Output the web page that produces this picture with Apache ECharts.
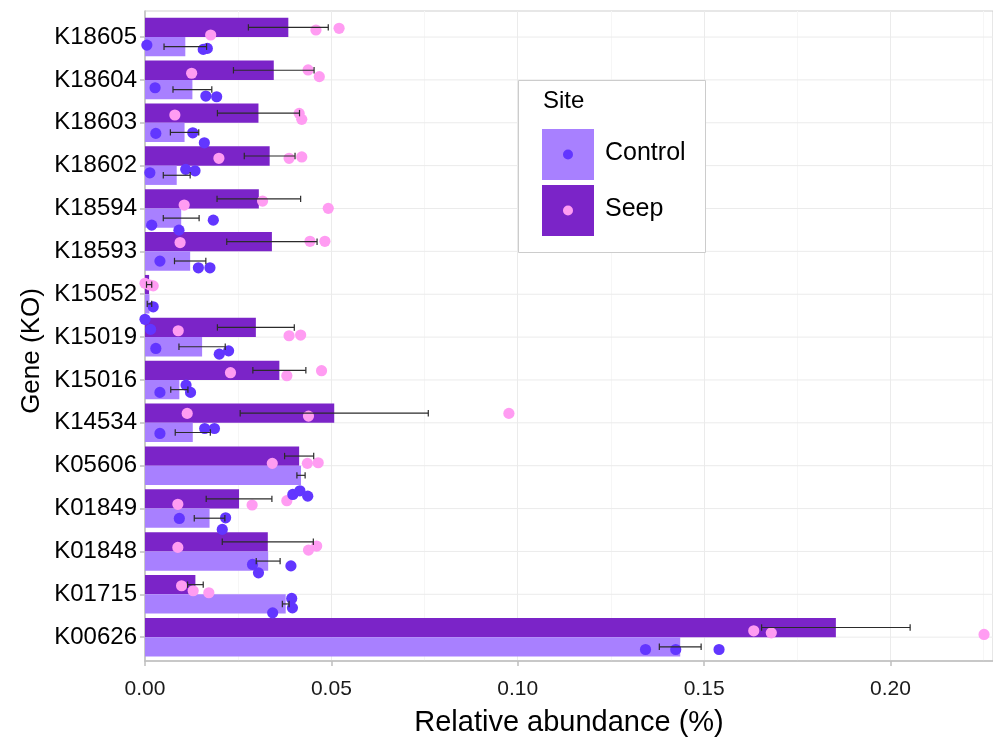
<!DOCTYPE html>
<html>
<head>
<meta charset="utf-8">
<title>Relative abundance by gene</title>
<script src="https://cdn.jsdelivr.net/npm/echarts@6/dist/echarts.min.js"></script>
<style>
  html, body { margin: 0; padding: 0; background: #ffffff; }
  #chart { width: 993px; height: 742px; }
</style>
</head>
<body>
<div id="chart"></div>
<script>
// Genes (KEGG orthologs), listed top to bottom
const categories = ['K18605', 'K18604', 'K18603', 'K18602', 'K18594', 'K18593', 'K15052',
  'K15019', 'K15016', 'K14534', 'K05606', 'K01849', 'K01848', 'K01715', 'K00626'];

// Mean relative abundance (%) and standard error per site
const seepMean = [0.0384, 0.0345, 0.0304, 0.0334, 0.0305, 0.0340, 0.0011, 0.0297, 0.0360, 0.0507, 0.0413, 0.0252, 0.0329, 0.0135, 0.1851];
const seepErr = [0.0107, 0.0108, 0.0110, 0.0068, 0.0112, 0.0121, 0.0007, 0.0103, 0.0071, 0.0252, 0.0039, 0.0088, 0.0122, 0.0021, 0.0199];
const controlMean = [0.0108, 0.0127, 0.0106, 0.0085, 0.0097, 0.0121, 0.0012, 0.0153, 0.0092, 0.0128, 0.0418, 0.0173, 0.0330, 0.0377, 0.1434];
const controlErr = [0.0057, 0.0052, 0.0038, 0.0036, 0.0048, 0.0042, 0.0006, 0.0062, 0.0023, 0.0047, 0.0011, 0.0041, 0.0032, 0.0009, 0.0056];

// Replicate samples (three per gene and site)
const seepReplicates = [
  [0.0176, 0.0458, 0.0520], [0.0125, 0.0437, 0.0467], [0.0080, 0.0413, 0.0420],
  [0.0198, 0.0386, 0.0420], [0.0105, 0.0315, 0.0491], [0.0094, 0.0442, 0.0482],
  [0.0000, 0.0013, 0.0022], [0.0089, 0.0386, 0.0417], [0.0229, 0.0380, 0.0473],
  [0.0113, 0.0438, 0.0975], [0.0341, 0.0435, 0.0464], [0.0088, 0.0287, 0.0380],
  [0.0088, 0.0438, 0.0460], [0.0098, 0.0129, 0.0171], [0.1631, 0.1678, 0.2248]
];
const controlReplicates = [
  [0.0005, 0.0156, 0.0167], [0.0027, 0.0163, 0.0192], [0.0029, 0.0128, 0.0159],
  [0.0013, 0.0109, 0.0134], [0.0018, 0.0091, 0.0183], [0.0040, 0.0143, 0.0174],
  [0.0022, 0.0000, 0.0015], [0.0029, 0.0199, 0.0224], [0.0040, 0.0110, 0.0122],
  [0.0040, 0.0160, 0.0186], [0.0396, 0.0415, 0.0436], [0.0092, 0.0216, 0.0207],
  [0.0288, 0.0304, 0.0391], [0.0393, 0.0395, 0.0342], [0.1341, 0.1422, 0.1538]
];

// Vertical jitter of each replicate point, as a fraction of the category band
const seepJitter = [
  [0.177, 0.061, 0.021], [0.070, -0.007, 0.149], [0.044, 0.005, 0.145],
  [0.054, 0.054, 0.023], [0.145, 0.051, 0.222], [0.020, -0.010, -0.010],
  [-0.030, 0.010, 0.030], [0.077, 0.194, 0.177], [0.056, 0.126, 0.009],
  [0.005, 0.068, 0.005], [0.170, 0.170, 0.156], [0.126, 0.142, 0.042],
  [0.131, 0.194, 0.100], [0.026, 0.142, 0.189], [0.077, 0.124, 0.161]
];
const controlJitter = [
  [-0.037, 0.063, 0.040], [-0.042, 0.152, 0.168], [0.023, 0.009, 0.243],
  [-0.058, -0.138, -0.105], [0.163, 0.280, 0.047], [0.002, 0.159, 0.159],
  [0.068, 0.360, 0.595], [0.040, 0.173, 0.096], [0.065, -0.105, 0.065],
  [0.023, -0.093, -0.093], [0.446, 0.360, 0.485], [0.005, -0.009, 0.261],
  [0.079, 0.275, 0.112], [-0.128, 0.091, 0.208], [0.063, 0.063, 0.063]
];

const X_MAX = 0.2272;
const X_STEP = 0.05;

const COLORS = {
  seepBar: '#7B24C8',
  controlBar: '#A880FF',
  seepPoint: '#FF9CF2',
  controlPoint: '#6236FF',
  errorBar: '#2B2B2B',
  grid: '#EBEBEB',
  gridMinor: '#F6F6F6',
  frame: '#CFCFCF'
};
const FONT = "'Liberation Sans', Arial, Helvetica, sans-serif";

// Half the dodge width: each bar takes 0.45 of the band, bars centred at +/-0.225
const DODGE = 0.225;

// Flatten replicate points into [value, categoryIndex, jitter, side]
function pointRows(reps, jit, side) {
  const rows = [];
  reps.forEach((vals, i) => vals.forEach((v, k) => rows.push([v, i, jit[i][k], side])));
  return rows;
}
const seepPointRows = pointRows(seepReplicates, seepJitter, -1);
const controlPointRows = pointRows(controlReplicates, controlJitter, 1);

const errorRows = categories.map((c, i) => [seepMean[i], i, seepErr[i], -1])
  .concat(categories.map((c, i) => [controlMean[i], i, controlErr[i], 1]));

function renderPoint(color) {
  return function (params, api) {
    const idx = api.value(1);
    const c = api.coord([api.value(0), idx]);
    const band = api.size([0, 1])[1];
    const y = c[1] + (api.value(3) * DODGE + api.value(2)) * band;
    return {
      type: 'circle',
      shape: { cx: c[0], cy: y, r: 5.6 },
      style: { fill: color }
    };
  };
}

function renderError(params, api) {
  const mean = api.value(0);
  const idx = api.value(1);
  const err = api.value(2);
  const band = api.size([0, 1])[1];
  const y = api.coord([mean, idx])[1] + api.value(3) * DODGE * band;
  const x1 = api.coord([mean - err, idx])[0];
  const x2 = api.coord([mean + err, idx])[0];
  const cap = 3.2;
  const style = { stroke: COLORS.errorBar, lineWidth: 1.2 };
  return {
    type: 'group',
    children: [
      { type: 'line', shape: { x1: x1, y1: y, x2: x2, y2: y }, style: style },
      { type: 'line', shape: { x1: x1, y1: y - cap, x2: x1, y2: y + cap }, style: style },
      { type: 'line', shape: { x1: x2, y1: y - cap, x2: x2, y2: y + cap }, style: style }
    ]
  };
}

function renderRowLine(params, api) {
  const y = api.coord([0, api.value(1)])[1];
  const cs = params.coordSys;
  return {
    type: 'line',
    shape: { x1: cs.x, y1: y, x2: cs.x + cs.width, y2: y },
    style: { stroke: COLORS.grid, lineWidth: 1 }
  };
}

const chart = echarts.init(document.getElementById('chart'), null, { renderer: 'canvas' });

// Legend drawn as a keyed box: filled swatch with the point colour inside
const legendX = 518, legendY = 80;
const legendGraphic = [
  { type: 'rect', left: legendX, top: legendY, shape: { width: 187, height: 172 },
    style: { fill: '#ffffff', stroke: '#CCCCCC', lineWidth: 1 }, z: 10 },
  { type: 'text', left: legendX + 25, top: legendY + 9,
    style: { text: 'Site', fontSize: 24, fontFamily: FONT, fill: '#000000' }, z: 11 },
  { type: 'rect', left: legendX + 24, top: legendY + 49, shape: { width: 52, height: 51 },
    style: { fill: COLORS.controlBar }, z: 11 },
  { type: 'circle', left: legendX + 45, top: legendY + 69.5, shape: { r: 5 },
    style: { fill: COLORS.controlPoint }, z: 12 },
  { type: 'rect', left: legendX + 24, top: legendY + 105, shape: { width: 52, height: 51 },
    style: { fill: COLORS.seepBar }, z: 11 },
  { type: 'circle', left: legendX + 45, top: legendY + 125.5, shape: { r: 5 },
    style: { fill: COLORS.seepPoint }, z: 12 },
  { type: 'text', left: legendX + 87, top: legendY + 61,
    style: { text: 'Control', fontSize: 25, fontFamily: FONT, fill: '#000000' }, z: 11 },
  { type: 'text', left: legendX + 87, top: legendY + 117,
    style: { text: 'Seep', fontSize: 25, fontFamily: FONT, fill: '#000000' }, z: 11 }
];

chart.setOption({
  backgroundColor: '#ffffff',
  animation: false,
  textStyle: { fontFamily: FONT },
  grid: [
    // band layout for the bars, points and error bars
    { left: 145, right: 0, top: 15.6, bottom: 83.4 },
    // panel frame carrying the axes and grid lines
    { left: 145, right: -1, top: 11, bottom: 79, show: true, borderColor: COLORS.frame, borderWidth: 1, backgroundColor: 'transparent' }
  ],
  xAxis: [
    { gridIndex: 0, type: 'value', min: 0, max: X_MAX, show: false },
    {
      gridIndex: 1, type: 'value', min: 0, max: X_MAX + 0.0003, interval: X_STEP,
      axisLine: { show: true, lineStyle: { color: '#BFBFBF', width: 1.5 } },
      axisTick: { show: true, length: 5, lineStyle: { color: '#BFBFBF', width: 1.5 } },
      axisLabel: {
        fontSize: 21, color: '#1A1A1A', margin: 18, showMaxLabel: false,
        formatter: function (v) {
          const k = v / X_STEP;
          return Math.abs(k - Math.round(k)) < 1e-6 ? v.toFixed(2) : '';
        }
      },
      splitLine: { show: true, lineStyle: { color: COLORS.grid, width: 1 } },
      minorTick: { show: false, splitNumber: 2 },
      minorSplitLine: { show: true, lineStyle: { color: COLORS.gridMinor, width: 1 } },
      name: 'Relative abundance (%)', nameLocation: 'middle', nameGap: 47,
      nameTextStyle: { fontSize: 29, color: '#000000', fontFamily: FONT }
    }
  ],
  yAxis: [
    {
      gridIndex: 0, type: 'category', inverse: true, data: categories,
      axisLine: { show: false },
      axisTick: { show: true, alignWithLabel: true, length: 5, lineStyle: { color: '#BFBFBF', width: 1.5 } },
      axisLabel: { fontSize: 24, color: '#000000', margin: 8, fontFamily: FONT },
      splitLine: { show: false }
    },
    {
      gridIndex: 1, type: 'value', min: 0, max: 1,
      axisLine: { show: true, lineStyle: { color: '#BFBFBF', width: 1.5 } },
      axisTick: { show: false }, axisLabel: { show: false }, splitLine: { show: false },
      name: 'Gene (KO)', nameLocation: 'middle', nameGap: 100,
      nameTextStyle: { fontSize: 26, color: '#000000', fontFamily: FONT, padding: [0, 30, 0, 0] }
    }
  ],
  series: [
    {
      name: 'Row lines', type: 'custom', xAxisIndex: 0, yAxisIndex: 0, silent: true, z: 1,
      data: categories.map((c, i) => [0, i]),
      renderItem: renderRowLine
    },
    {
      name: 'Seep', type: 'bar', xAxisIndex: 0, yAxisIndex: 0, z: 2,
      data: seepMean, barWidth: '45%', barGap: '0%',
      itemStyle: { color: COLORS.seepBar }
    },
    {
      name: 'Control', type: 'bar', xAxisIndex: 0, yAxisIndex: 0, z: 2,
      data: controlMean, barWidth: '45%', barGap: '0%',
      itemStyle: { color: COLORS.controlBar }
    },
    {
      name: 'Seep replicates', type: 'custom', xAxisIndex: 0, yAxisIndex: 0, z: 3,
      data: seepPointRows, encode: { x: 0, y: 1 },
      renderItem: renderPoint(COLORS.seepPoint)
    },
    {
      name: 'Control replicates', type: 'custom', xAxisIndex: 0, yAxisIndex: 0, z: 3,
      data: controlPointRows, encode: { x: 0, y: 1 },
      renderItem: renderPoint(COLORS.controlPoint)
    },
    {
      name: 'Standard error', type: 'custom', xAxisIndex: 0, yAxisIndex: 0, z: 4,
      data: errorRows, encode: { x: 0, y: 1 },
      renderItem: renderError
    }
  ],
  graphic: legendGraphic
});
</script>
</body>
</html>
